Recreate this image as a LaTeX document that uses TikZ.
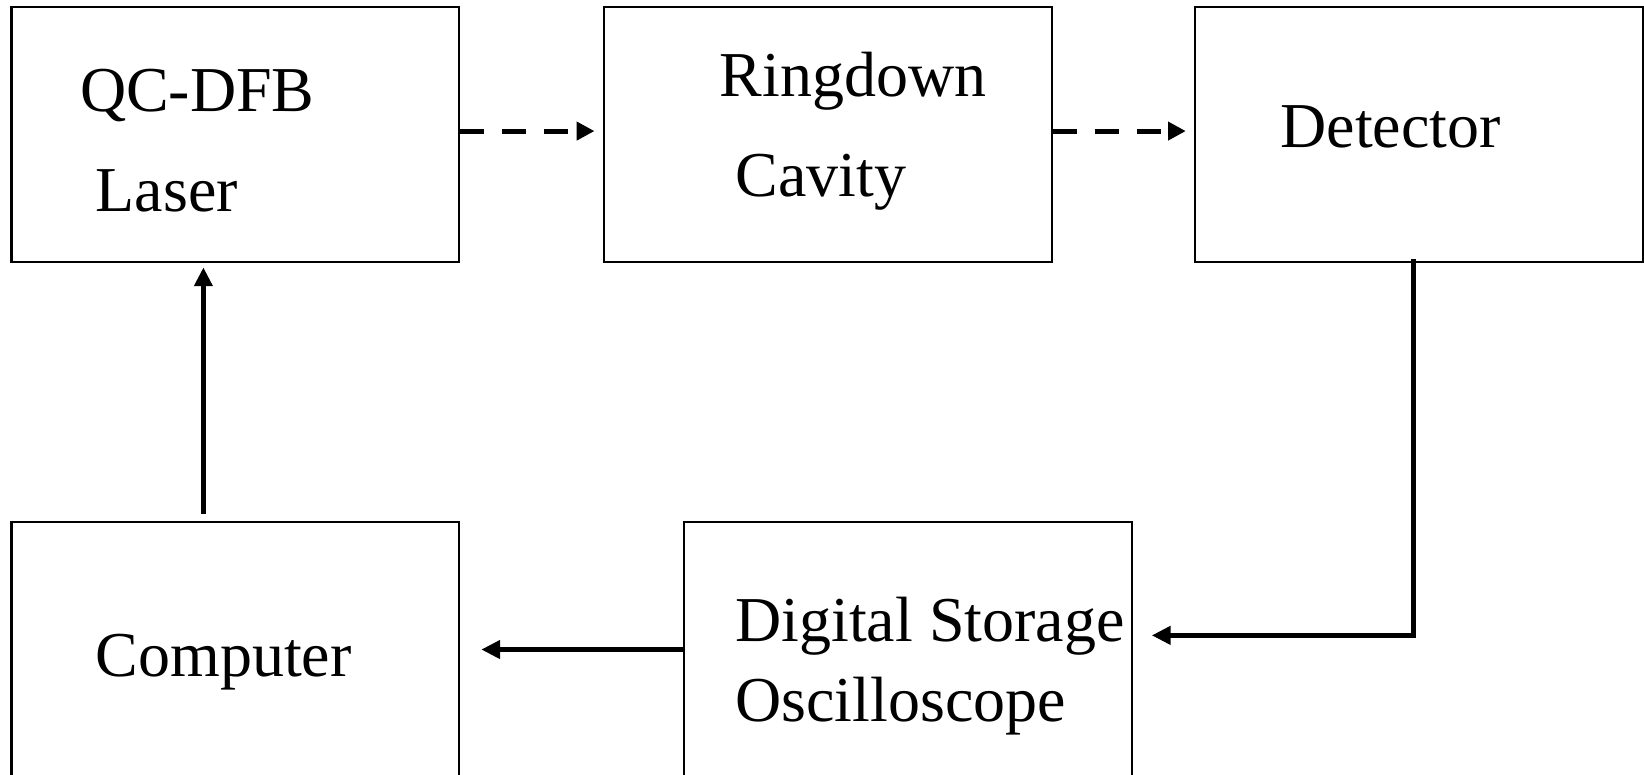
\documentclass[tikz,border=0pt]{standalone}
\usepackage{fontspec}
\setmainfont{Liberation Serif}
\usetikzlibrary{arrows.meta,calc}
\begin{document}
\begin{tikzpicture}[x=0.5pt,y=-0.5pt,
  blockbox/.style={draw, line width=1pt, minimum width=213.5pt, minimum height=121.5pt, inner sep=0pt},
  lbl/.style={anchor=base west, inner sep=0pt, font=\fontsize{30.5}{36}\selectfont},
  conn/.style={line width=2.6pt, -{Triangle[length=9pt,width=8.5pt]}},
  dconn/.style={line width=2.4pt, dash pattern=on 11.5pt off 8.5pt, -{Triangle[length=8.5pt,width=8.5pt]}}
]
\useasboundingbox (0,0) rectangle (1568,739);
% boxes
\node[blockbox] (laser) at (224.5,128.5) {};
\node[blockbox] (ring)  at (789.5,128.5) {};
\node[blockbox] (det)   at (1353.5,128.5) {};
\node[blockbox] (comp)  at (224.5,619.5) {};
\node[blockbox] (dso)   at (866,619.5) {};
% labels
\node[lbl] (t1) at (76,106) {QC-DFB};
\node[lbl] (t2) at (91,202) {Laser};
\node[lbl] (t3) at (686,92) {Ringdown};
\node[lbl] (t4) at (701,187) {Cavity};
\node[lbl] (t5) at (1221,141) {Detector};
\node[lbl] (t6) at (91,645) {Computer};
\node[lbl] (t7) at (701,612) {Digital Storage};
\node[lbl] (t8) at (701,688) {Oscilloscope};
% connectors
\draw[dconn] ($(laser.east)+(0,-3.5)$) -- ($(ring.west)+(-8,-3.5)$);
\draw[dconn] ($(ring.east)+(0,-3.5)$) -- ($(det.west)+(-8,-3.5)$);
\draw[conn] ($(comp.north)+(-30.5,-7)$) -- ($(laser.south)+(-30.5,4)$);
\draw[conn] ($(det.south)+(-5.5,-4)$) |- ($(dso.east)+(18,-13.5)$);
\draw[conn] (dso.west) -- ($(comp.east)+(20,0)$);
\end{tikzpicture}
\end{document}
